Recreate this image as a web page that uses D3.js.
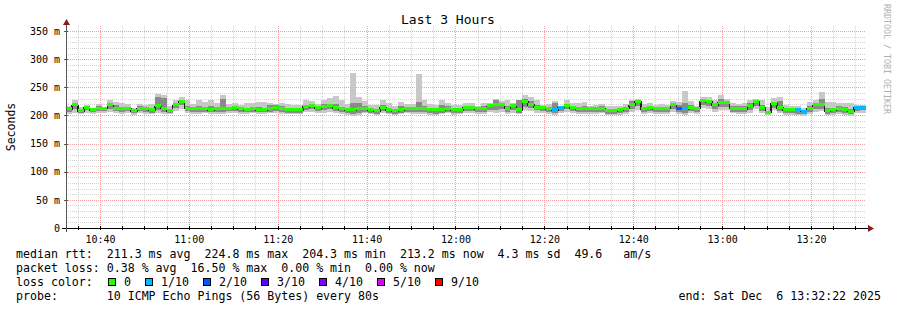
<!DOCTYPE html>
<html lang="en">
<head>
<meta charset="UTF-8">
<title>Last 3 Hours</title>
<script src="https://d3js.org/d3.v7.min.js"></script>
<style>
  body { margin: 0; background: #fff; }
  svg { display: block; }
  text { font-family: "DejaVu Sans Mono", monospace; fill: #000; }
</style>
</head>
<body>
<svg id="chart" width="897" height="310"></svg>
<script>
// ---- data (ms), one value per 80 s step, 10:32:22 -> 13:32:22 ----
const median = [211,218,208,214,210,212,212,218,212,212,212,208,212,211,209,216,212,208,218,224,212,211,211,211,210,211,212,212,213,211,210,211,210,
  210,212,213,212,210,209,209,215,216,213,215,217,213,211,209,210,211,212,209,208,213,209,208,210,212,211,211,211,209,209,210,212,209,210,
  213,213,211,212,216,219,218,212,216,209,224,219,214,213,211,209,214,216,213,211,212,211,212,212,208,208,209,212,218,224,211,213,211,212,
  212,218,212,211,214,212,225,224,218,222,222,212,212,211,216,224,213,205,220,213,209,209,209,207,212,218,218,208,209,212,209,207,213,214];
const smokeHi = [217,227,215,218,214,221,215,227,224,222,221,213,221,219,221,238,236,217,228,233,228,221,228,224,228,222,237,221,222,218,222,222,224,
  224,223,221,223,220,218,218,227,225,221,228,231,234,227,221,276,233,225,219,218,227,222,217,224,221,221,274,228,221,218,227,222,218,219,
  223,222,217,223,223,230,226,227,223,228,237,233,228,218,220,226,217,228,222,223,224,217,218,220,217,216,217,220,228,230,220,223,218,220,
  218,225,224,244,225,217,233,233,228,237,230,222,220,222,228,230,227,215,231,233,218,216,216,214,224,227,242,224,224,222,222,222,218,218];
const smokeLo = [203,204,202,205,203,204,205,206,204,203,204,201,204,203,202,205,203,202,208,212,204,203,203,204,202,203,202,204,204,202,203,204,202,
  203,204,205,203,202,202,203,206,207,204,205,206,204,202,201,199,200,204,202,201,205,202,201,202,204,203,203,202,201,200,202,204,201,202,
  204,205,202,203,206,205,207,203,205,202,210,208,205,204,203,201,204,207,205,202,203,203,203,204,200,200,201,203,207,210,202,204,202,203,
  203,207,202,201,204,203,213,212,207,210,210,204,203,202,205,212,204,200,209,205,201,201,200,199,203,207,208,200,201,203,201,199,204,204];
const coreHi = [214,221,211,216,212,216,214,221,218,215,215,210,216,214,213,232,231,211,222,228,216,214,216,215,216,214,229,214,217,214,214,215,215,
  214,218,218,217,213,212,213,219,219,216,220,221,220,215,213,222,222,216,212,211,218,213,211,216,215,214,224,216,213,212,218,216,212,213,
  216,216,214,217,219,227,222,217,219,227,230,225,219,216,215,222,216,220,216,215,217,214,215,216,211,211,212,215,225,228,214,217,214,215,
  215,221,218,222,218,214,229,228,222,230,226,216,216,216,222,226,218,208,224,226,212,212,212,210,217,222,230,214,214,217,215,211,216,217];
const coreLo = [207,212,205,209,206,208,208,212,208,207,208,204,208,206,205,210,206,204,213,218,208,206,207,207,206,207,206,208,208,206,206,207,206,
  206,207,208,206,205,205,205,210,211,208,209,211,208,206,204,203,204,207,204,203,208,204,203,205,207,206,206,206,204,203,205,207,204,205,
  208,208,206,207,210,209,212,207,210,205,215,213,209,208,206,204,208,211,208,206,207,206,207,207,203,203,204,207,212,216,206,208,206,207,
  207,212,206,205,208,207,218,217,212,215,215,207,207,206,210,217,208,202,214,208,204,204,203,202,207,212,212,203,204,207,204,202,208,209];
// lost pings out of 10 for each step
const loss = [0,0,0,0,0,0,0,0,0,0,0,0,0,0,0,0,0,0,0,0,0,0,0,0,0,0,0,0,0,0,0,0,0,
  0,0,0,0,0,0,0,0,0,0,0,0,0,0,0,0,0,0,0,0,0,0,0,0,0,0,0,0,0,0,0,0,0,0,
  0,0,0,0,0,0,0,0,0,0,0,0,0,0,0,1,1,0,0,0,0,0,0,0,0,0,0,0,0,0,0,0,0,0,
  0,0,2,1,0,0,0,0,0,0,0,0,0,0,0,0,0,0,0,0,0,0,1,1,0,0,0,0,0,0,0,0,1,1,0];

const lossKeys = [0, 1, 2, 3, 4, 5, 9];
const lossLabels = ["0", "1/10", "2/10", "3/10", "4/10", "5/10", "9/10"];
const lossColors = ["#26ff00", "#00b8ff", "#0059ff", "#5e00ff", "#7e00ff", "#dd00ff", "#ff0000"];

const yTicks = [0, 50, 100, 150, 200, 250, 300, 350];

const legendLines = [
  "median rtt:  211.3 ms avg  224.8 ms max  204.3 ms min  213.2 ms now  4.3 ms sd  49.6   am/s",
  "packet loss: 0.38 % avg  16.50 % max  0.00 % min  0.00 % now"
];
const probeText = "probe:       10 ICMP Echo Pings (56 Bytes) every 80s";
const endText = "end: Sat Dec  6 13:32:22 2025";

(function () {
  const svg = d3.select("#chart");
  const endTime = new Date(2025, 11, 6, 13, 32, 22);
  const startTime = new Date(endTime.getTime() - 3 * 3600 * 1000);
  const stepMs = 80 * 1000;

  const pL = 66, pR = 866, pT = 26, pB = 228;
  const x = d3.scaleTime().domain([startTime, endTime]).range([pL, pR]);
  const y = d3.scaleLinear().domain([0, 359]).range([pB, pT]);
  const lossColor = d3.scaleOrdinal().domain(lossKeys).range(lossColors);

  const rows = median.map((m, i) => ({
    t0: new Date(startTime.getTime() + i * stepMs),
    t1: new Date(startTime.getTime() + (i + 1) * stepMs),
    med: m, lo: smokeLo[i], hi: smokeHi[i], cLo: coreLo[i], cHi: coreHi[i], loss: loss[i]
  }));

  // grid
  const grid = svg.append("g").attr("shape-rendering", "crispEdges");
  const minorY = d3.range(10, 359, 10).filter(v => v % 50 !== 0);
  grid.selectAll(".hmin").data(minorY).enter().append("line")
    .attr("x1", pL).attr("x2", pR)
    .attr("y1", d => Math.round(y(d)) + 0.5).attr("y2", d => Math.round(y(d)) + 0.5)
    .attr("stroke", "#d4d4d4").attr("stroke-dasharray", "1,1");
  const minorX = d3.timeMinute.every(5).range(startTime, endTime)
    .filter(d => d.getMinutes() % 20 !== 0);
  grid.selectAll(".vmin").data(minorX).enter().append("line")
    .attr("x1", d => Math.round(x(d)) + 0.5).attr("x2", d => Math.round(x(d)) + 0.5)
    .attr("y1", pT).attr("y2", pB)
    .attr("stroke", "#d4d4d4").attr("stroke-dasharray", "1,1");
  grid.selectAll(".hmaj").data(yTicks.slice(1)).enter().append("line")
    .attr("x1", pL).attr("x2", pR)
    .attr("y1", d => Math.round(y(d)) + 0.5).attr("y2", d => Math.round(y(d)) + 0.5)
    .attr("stroke", "#f0a0a0").attr("stroke-dasharray", "1,1");
  const majorX = d3.timeMinute.every(20).range(startTime, endTime);
  grid.selectAll(".vmaj").data(majorX).enter().append("line")
    .attr("x1", d => Math.round(x(d)) + 0.5).attr("x2", d => Math.round(x(d)) + 0.5)
    .attr("y1", pT).attr("y2", pB)
    .attr("stroke", "#f0a0a0").attr("stroke-dasharray", "1,1");

  // smoke
  const plot = svg.append("g").attr("shape-rendering", "crispEdges");
  function band(lo, hi, color) {
    plot.append("g").selectAll("rect").data(rows).enter().append("rect")
      .attr("x", d => Math.round(x(d.t0)))
      .attr("width", d => Math.round(x(d.t1)) - Math.round(x(d.t0)))
      .attr("y", d => Math.round(y(d[hi])))
      .attr("height", d => Math.max(1, Math.round(y(d[lo])) - Math.round(y(d[hi]))))
      .attr("fill", color);
  }
  band("lo", "hi", "#c8c8c8");
  band("cLo", "cHi", "#8a8a8a");

  // median step line + loss coloured band
  const stepPts = rows.map(d => [x(d.t0), y(d.med)]);
  stepPts.push([x(endTime), y(median[median.length - 1])]);
  plot.append("path")
    .attr("d", d3.line().curve(d3.curveStepAfter)(stepPts))
    .attr("fill", "none").attr("stroke", "#202020").attr("stroke-width", 1.5);
  plot.append("g").selectAll("rect").data(rows).enter().append("rect")
    .attr("x", d => Math.round(x(d.t0)))
    .attr("width", d => Math.round(x(d.t1)) - Math.round(x(d.t0)))
    .attr("y", d => Math.round(y(d.med)) - 2)
    .attr("height", 3)
    .attr("fill", d => lossColor(d.loss));

  // axes
  const yAxis = svg.append("g").attr("transform", `translate(${pL},0)`)
    .call(d3.axisLeft(y).tickValues(yTicks).tickSize(0).tickPadding(6)
      .tickFormat(d => d === 0 ? "0" : d + " m"));
  yAxis.select(".domain").remove();
  yAxis.selectAll("text").attr("font-size", "10px").attr("font-family", "DejaVu Sans Mono").attr("fill", "#000");

  const xAxis = svg.append("g").attr("transform", `translate(0,${pB})`)
    .call(d3.axisBottom(x).tickValues(majorX).tickSize(0).tickPadding(8)
      .tickFormat(d3.timeFormat("%H:%M")));
  xAxis.select(".domain").remove();
  xAxis.selectAll("text").attr("font-size", "10px").attr("font-family", "DejaVu Sans Mono").attr("fill", "#000");

  // axis lines, ticks and arrows
  const ax = svg.append("g").attr("shape-rendering", "crispEdges");
  ax.append("line").attr("x1", 62).attr("x2", 869).attr("y1", pB + 0.5).attr("y2", pB + 0.5)
    .attr("stroke", "#000");
  ax.append("line").attr("x1", pL + 0.5).attr("x2", pL + 0.5).attr("y1", 232).attr("y2", 24)
    .attr("stroke", "#555");
  ax.selectAll(".xt").data(minorX.concat(majorX)).enter().append("line")
    .attr("x1", d => Math.round(x(d)) + 0.5).attr("x2", d => Math.round(x(d)) + 0.5)
    .attr("y1", pB - 2).attr("y2", pB + 2).attr("stroke", "#000");
  ax.selectAll(".yt").data(yTicks.slice(1)).enter().append("line")
    .attr("x1", pL - 2).attr("x2", pL + 2)
    .attr("y1", d => Math.round(y(d)) + 0.5).attr("y2", d => Math.round(y(d)) + 0.5)
    .attr("stroke", "#555");
  svg.append("path").attr("d", "M868,225 L874,228.5 L868,232 Z").attr("fill", "#8b1a1a");
  svg.append("path").attr("d", "M63,25 L66.5,19 L70,25 Z").attr("fill", "#8b1a1a");

  // titles
  svg.append("text").attr("x", 448).attr("y", 24).attr("text-anchor", "middle")
    .attr("font-size", "13px").text("Last 3 Hours");
  svg.append("text").attr("transform", "translate(15,127) rotate(-90)")
    .attr("text-anchor", "middle").attr("font-size", "11.5px").text("Seconds");
  svg.append("text").attr("transform", "translate(884,59) rotate(90)")
    .attr("text-anchor", "middle").attr("font-size", "8.3px")
    .style("fill", "#b0b0b0").text("RRDTOOL / TOBI OETIKER");

  // legend
  const lg = svg.append("g").attr("font-size", "11.6px");
  const cw = 7;
  legendLines.forEach((s, i) => {
    lg.append("text").attr("x", 16).attr("y", 258 + i * 14)
      .style("white-space", "pre").text(s);
  });
  lg.append("text").attr("x", 16).attr("y", 286).text("loss color:");
  let bx = 108;
  lossLabels.forEach((lab, i) => {
    lg.append("rect").attr("x", bx + 0.5).attr("y", 278.5).attr("width", 7).attr("height", 7)
      .attr("fill", lossColors[i]).attr("stroke", "#000").attr("stroke-width", 1)
      .attr("shape-rendering", "crispEdges");
    lg.append("text").attr("x", bx + 16).attr("y", 286).text(lab);
    bx = bx + 16 + lab.length * cw + 14;
  });
  lg.append("text").attr("x", 16).attr("y", 300).style("white-space", "pre").text(probeText);
  lg.append("text").attr("x", 881).attr("y", 300).attr("text-anchor", "end")
    .style("white-space", "pre").text(endText);
})();
</script>
</body>
</html>
